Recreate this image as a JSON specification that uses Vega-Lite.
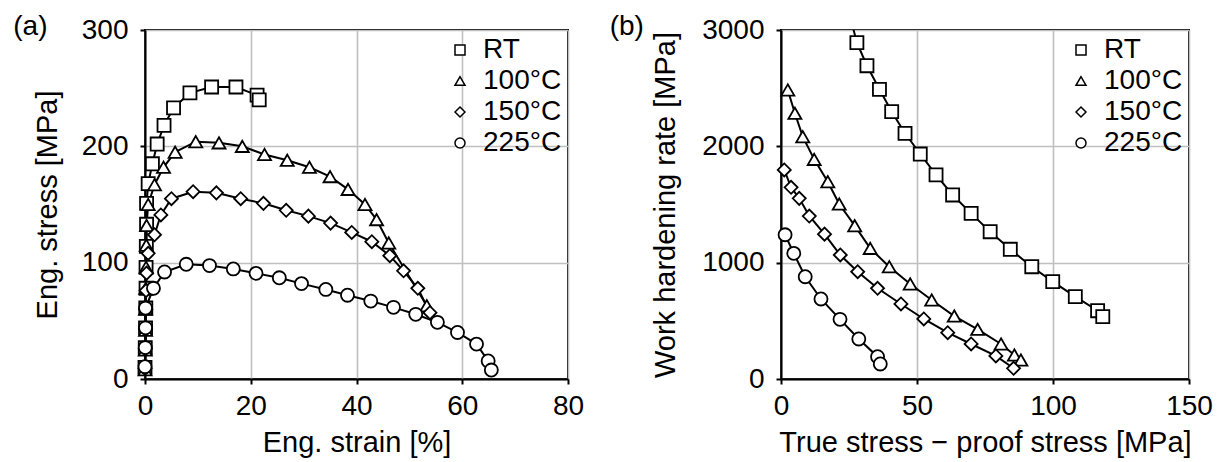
{
  "$schema": "https://vega.github.io/schema/vega-lite/v6.json",
  "padding": {"left": 12, "top": 12, "right": 4, "bottom": 2},
  "config": {
    "font": "Liberation Sans",
    "view": {"stroke": "black", "strokeWidth": 2},
    "axis": {
      "domainColor": "black", "domainWidth": 2,
      "tickColor": "black", "tickWidth": 2, "tickSize": 5,
      "labelFont": "Liberation Sans", "labelFontSize": 28, "labelColor": "black",
      "labelFlush": false, "labelOverlap": false,
      "titleFont": "Liberation Sans", "titleFontSize": 29, "titleFontWeight": "normal", "titleColor": "black",
      "gridColor": "#c0c0c0", "gridWidth": 1.6
    },
    "axisX": {"labelPadding": 8, "titlePadding": 8},
    "axisY": {"labelPadding": 12},
    "title": {"font": "Liberation Sans", "fontSize": 28, "fontWeight": "normal", "color": "black", "anchor": "start", "frame": "bounds"}
  },
  "datasets": {
    "a": [
      {"s": "RT", "x": 0, "y": 10}, {"s": "RT", "x": 0.05, "y": 27}, {"s": "RT", "x": 0.1, "y": 44}, {"s": "RT", "x": 0.15, "y": 61},
      {"s": "RT", "x": 0.2, "y": 78}, {"s": "RT", "x": 0.2, "y": 96}, {"s": "RT", "x": 0.25, "y": 114}, {"s": "RT", "x": 0.3, "y": 133},
      {"s": "RT", "x": 0.3, "y": 151}, {"s": "RT", "x": 0.6, "y": 168}, {"s": "RT", "x": 1.4, "y": 185}, {"s": "RT", "x": 2.3, "y": 202},
      {"s": "RT", "x": 3.6, "y": 218}, {"s": "RT", "x": 5.4, "y": 233}, {"s": "RT", "x": 8.5, "y": 246}, {"s": "RT", "x": 12.6, "y": 251},
      {"s": "RT", "x": 17.2, "y": 251}, {"s": "RT", "x": 21.2, "y": 244}, {"s": "RT", "x": 21.6, "y": 240},
      {"s": "100°C", "x": 0, "y": 8}, {"s": "100°C", "x": 0.05, "y": 25}, {"s": "100°C", "x": 0.1, "y": 42}, {"s": "100°C", "x": 0.1, "y": 60},
      {"s": "100°C", "x": 0.15, "y": 78}, {"s": "100°C", "x": 0.2, "y": 96}, {"s": "100°C", "x": 0.25, "y": 115}, {"s": "100°C", "x": 0.3, "y": 132},
      {"s": "100°C", "x": 0.6, "y": 150}, {"s": "100°C", "x": 1.8, "y": 167}, {"s": "100°C", "x": 3.5, "y": 182}, {"s": "100°C", "x": 5.7, "y": 195},
      {"s": "100°C", "x": 9.6, "y": 204}, {"s": "100°C", "x": 14.0, "y": 203}, {"s": "100°C", "x": 18.4, "y": 200}, {"s": "100°C", "x": 22.6, "y": 193},
      {"s": "100°C", "x": 26.9, "y": 188}, {"s": "100°C", "x": 31.1, "y": 182}, {"s": "100°C", "x": 35.0, "y": 174}, {"s": "100°C", "x": 38.4, "y": 163},
      {"s": "100°C", "x": 41.6, "y": 150}, {"s": "100°C", "x": 43.8, "y": 137}, {"s": "100°C", "x": 46.1, "y": 117}, {"s": "100°C", "x": 53.3, "y": 63},
      {"s": "150°C", "x": 0, "y": 9}, {"s": "150°C", "x": 0.05, "y": 26}, {"s": "150°C", "x": 0.1, "y": 43}, {"s": "150°C", "x": 0.15, "y": 60},
      {"s": "150°C", "x": 0.2, "y": 76}, {"s": "150°C", "x": 0.3, "y": 91}, {"s": "150°C", "x": 0.6, "y": 108}, {"s": "150°C", "x": 1.8, "y": 124},
      {"s": "150°C", "x": 3.0, "y": 141}, {"s": "150°C", "x": 5.0, "y": 155}, {"s": "150°C", "x": 9.1, "y": 161}, {"s": "150°C", "x": 13.5, "y": 160},
      {"s": "150°C", "x": 18.1, "y": 155}, {"s": "150°C", "x": 22.4, "y": 151}, {"s": "150°C", "x": 26.7, "y": 145}, {"s": "150°C", "x": 30.9, "y": 140},
      {"s": "150°C", "x": 35.1, "y": 134}, {"s": "150°C", "x": 39.1, "y": 126}, {"s": "150°C", "x": 42.9, "y": 118}, {"s": "150°C", "x": 46.3, "y": 106},
      {"s": "150°C", "x": 48.9, "y": 93}, {"s": "150°C", "x": 51.6, "y": 78}, {"s": "150°C", "x": 53.9, "y": 57},
      {"s": "225°C", "x": 0, "y": 10.6}, {"s": "225°C", "x": 0.05, "y": 27}, {"s": "225°C", "x": 0.1, "y": 44}, {"s": "225°C", "x": 0.1, "y": 61},
      {"s": "225°C", "x": 1.6, "y": 78}, {"s": "225°C", "x": 3.7, "y": 92}, {"s": "225°C", "x": 7.8, "y": 98.6}, {"s": "225°C", "x": 12.2, "y": 97.5},
      {"s": "225°C", "x": 16.7, "y": 94.6}, {"s": "225°C", "x": 21.0, "y": 90.8}, {"s": "225°C", "x": 25.4, "y": 87}, {"s": "225°C", "x": 29.6, "y": 82},
      {"s": "225°C", "x": 34.2, "y": 77}, {"s": "225°C", "x": 38.3, "y": 72}, {"s": "225°C", "x": 42.7, "y": 67}, {"s": "225°C", "x": 47.0, "y": 61.6},
      {"s": "225°C", "x": 51.2, "y": 55.6}, {"s": "225°C", "x": 55.3, "y": 48.7}, {"s": "225°C", "x": 59.1, "y": 40}, {"s": "225°C", "x": 62.7, "y": 30},
      {"s": "225°C", "x": 64.9, "y": 15.5}, {"s": "225°C", "x": 65.5, "y": 7.7}
    ],
    "b": [
      {"s": "RT", "x": 25.7, "y": 3090}, {"s": "RT", "x": 27.9, "y": 2891}, {"s": "RT", "x": 31.6, "y": 2693}, {"s": "RT", "x": 36.2, "y": 2490},
      {"s": "RT", "x": 40.7, "y": 2298}, {"s": "RT", "x": 45.6, "y": 2112}, {"s": "RT", "x": 51.2, "y": 1934}, {"s": "RT", "x": 57.0, "y": 1754},
      {"s": "RT", "x": 63.1, "y": 1582}, {"s": "RT", "x": 69.9, "y": 1424}, {"s": "RT", "x": 76.9, "y": 1266}, {"s": "RT", "x": 84.3, "y": 1115},
      {"s": "RT", "x": 92.2, "y": 965}, {"s": "RT", "x": 99.9, "y": 837}, {"s": "RT", "x": 108.2, "y": 708}, {"s": "RT", "x": 116.4, "y": 587},
      {"s": "RT", "x": 118.3, "y": 536},
      {"s": "100°C", "x": 2.5, "y": 2484}, {"s": "100°C", "x": 5.1, "y": 2284}, {"s": "100°C", "x": 8.0, "y": 2083}, {"s": "100°C", "x": 12.2, "y": 1888},
      {"s": "100°C", "x": 17.2, "y": 1696}, {"s": "100°C", "x": 21.4, "y": 1504}, {"s": "100°C", "x": 27.1, "y": 1318}, {"s": "100°C", "x": 32.8, "y": 1123},
      {"s": "100°C", "x": 39.8, "y": 965}, {"s": "100°C", "x": 47.5, "y": 817}, {"s": "100°C", "x": 55.4, "y": 679}, {"s": "100°C", "x": 63.7, "y": 541},
      {"s": "100°C", "x": 72.3, "y": 427}, {"s": "100°C", "x": 80.9, "y": 301}, {"s": "100°C", "x": 85.8, "y": 206}, {"s": "100°C", "x": 88.2, "y": 163},
      {"s": "150°C", "x": 1.2, "y": 1797}, {"s": "150°C", "x": 3.7, "y": 1648}, {"s": "150°C", "x": 6.7, "y": 1553}, {"s": "150°C", "x": 10.4, "y": 1401},
      {"s": "150°C", "x": 16.0, "y": 1245}, {"s": "150°C", "x": 21.8, "y": 1066}, {"s": "150°C", "x": 28.2, "y": 922}, {"s": "150°C", "x": 35.5, "y": 780},
      {"s": "150°C", "x": 44.1, "y": 645}, {"s": "150°C", "x": 52.5, "y": 516}, {"s": "150°C", "x": 61.3, "y": 398}, {"s": "150°C", "x": 69.9, "y": 301},
      {"s": "150°C", "x": 79.0, "y": 198}, {"s": "150°C", "x": 85.5, "y": 92},
      {"s": "225°C", "x": 1.5, "y": 1240}, {"s": "225°C", "x": 4.7, "y": 1080}, {"s": "225°C", "x": 8.9, "y": 879}, {"s": "225°C", "x": 14.7, "y": 688},
      {"s": "225°C", "x": 21.7, "y": 513}, {"s": "225°C", "x": 28.6, "y": 344}, {"s": "225°C", "x": 35.5, "y": 192}, {"s": "225°C", "x": 36.5, "y": 129}
    ]
  },
  "hconcat": [
    {
      "title": {"text": "(a)", "dx": -20, "dy": 29},
      "width": 423, "height": 349,
      "data": {"name": "a"},
      "encoding": {
        "x": {"field": "x", "type": "quantitative", "scale": {"domain": [0, 80], "nice": false},
              "axis": {"title": "Eng. strain [%]", "values": [0, 20, 40, 60, 80]}},
        "y": {"field": "y", "type": "quantitative", "scale": {"domain": [0, 300], "nice": false},
              "axis": {"title": "Eng. stress [MPa]", "values": [0, 100, 200, 300], "titlePadding": 19}}
      },
      "layer": [
        {"mark": {"type": "line", "color": "black", "strokeWidth": 2},
         "encoding": {"detail": {"field": "s"}, "order": {"value": null}}},
        {"mark": {"type": "point", "filled": false, "fill": "white", "fillOpacity": 1, "strokeWidth": 1.8, "size": 170, "opacity": 1},
         "encoding": {
           "shape": {"field": "s", "type": "nominal",
             "scale": {"domain": ["RT", "100°C", "150°C", "225°C"], "range": ["square", "triangle-up", "diamond", "circle"]},
             "legend": null},
           "color": {"field": "s", "type": "nominal",
             "scale": {"domain": ["RT", "100°C", "150°C", "225°C"], "range": ["black", "black", "black", "black"]},
             "legend": {"orient": "top-right", "offset": 6, "title": null, "labelFontSize": 28, "labelColor": "black", "labelOffset": 9, "rowPadding": 3,
               "encode": {"symbols": {"shape": {"value": {"expr": "datum.value === 'RT' ? 'M-3.3,0H-1.3M1.3,0H3.3M-1.3,-1.3H1.3V1.3H-1.3Z' : datum.value === '100°C' ? 'M-3.3,0.5H-1.15M1.15,0.5H3.3M0,-1.5L1.5,1.1H-1.5Z' : datum.value === '150°C' ? 'M-3.3,0H-1.5M1.5,0H3.3M0,-1.5L1.5,0L0,1.5L-1.5,0Z' : 'M-3.3,0H-1.3M1.3,0H3.3M1.3,0A1.3,1.3 0 1 1 -1.3,0A1.3,1.3 0 1 1 1.3,0Z'"}}}}}}
         }}
      ]
    },
    {
      "title": {"text": "(b)", "dx": -42, "dy": 29},
      "width": 408, "height": 349,
      "data": {"name": "b"},
      "encoding": {
        "x": {"field": "x", "type": "quantitative", "scale": {"domain": [0, 150], "nice": false},
              "axis": {"title": "True stress − proof stress [MPa]", "values": [0, 50, 100, 150]}},
        "y": {"field": "y", "type": "quantitative", "scale": {"domain": [0, 3000], "nice": false},
              "axis": {"title": "Work hardening rate [MPa]", "values": [0, 1000, 2000, 3000], "format": "d", "titlePadding": 21}}
      },
      "layer": [
        {"mark": {"type": "line", "color": "black", "strokeWidth": 2, "clip": true},
         "encoding": {"detail": {"field": "s"}, "order": {"value": null}}},
        {"transform": [{"filter": "datum.y <= 3000"}],
         "mark": {"type": "point", "filled": false, "fill": "white", "fillOpacity": 1, "strokeWidth": 1.8, "size": 170, "opacity": 1},
         "encoding": {
           "shape": {"field": "s", "type": "nominal",
             "scale": {"domain": ["RT", "100°C", "150°C", "225°C"], "range": ["square", "triangle-up", "diamond", "circle"]},
             "legend": null},
           "color": {"field": "s", "type": "nominal",
             "scale": {"domain": ["RT", "100°C", "150°C", "225°C"], "range": ["black", "black", "black", "black"]},
             "legend": {"orient": "top-right", "offset": 6, "title": null, "labelFontSize": 28, "labelColor": "black", "labelOffset": 9, "rowPadding": 3,
               "encode": {"symbols": {"shape": {"value": {"expr": "datum.value === 'RT' ? 'M-3.3,0H-1.3M1.3,0H3.3M-1.3,-1.3H1.3V1.3H-1.3Z' : datum.value === '100°C' ? 'M-3.3,0.5H-1.15M1.15,0.5H3.3M0,-1.5L1.5,1.1H-1.5Z' : datum.value === '150°C' ? 'M-3.3,0H-1.5M1.5,0H3.3M0,-1.5L1.5,0L0,1.5L-1.5,0Z' : 'M-3.3,0H-1.3M1.3,0H3.3M1.3,0A1.3,1.3 0 1 1 -1.3,0A1.3,1.3 0 1 1 1.3,0Z'"}}}}}}
         }}
      ]
    }
  ],
  "spacing": 23,
  "resolve": {"scale": {"shape": "independent", "color": "independent"}, "legend": {"shape": "independent", "color": "independent"}}
}
